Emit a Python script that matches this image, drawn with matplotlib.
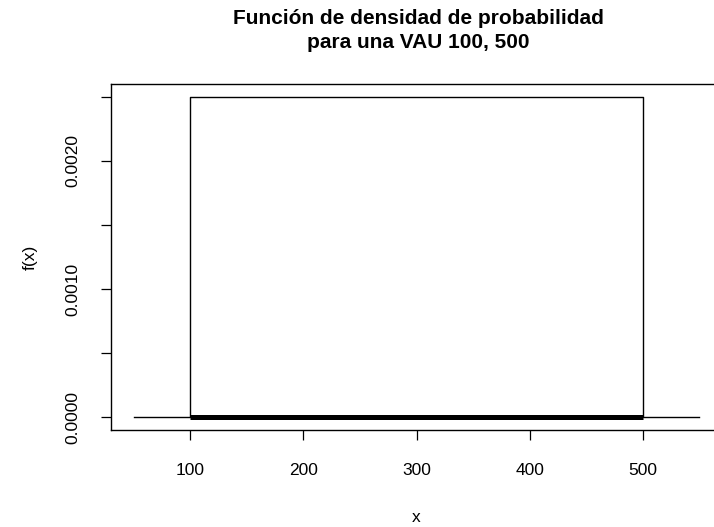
import matplotlib
matplotlib.use("Agg")
import matplotlib.pyplot as plt

# VAU(100, 500) density, drawn as R's base plot would
a, b = 100, 500
x_curve = [50, 100, 100, 500, 500, 550]
y_curve = [0, 0, 1 / (b - a), 1 / (b - a), 0, 0]
x_base = [100, 500]
y_base = [0, 0]

x_ticks = [100, 200, 300, 400, 500]
y_ticks = [0.0, 0.0005, 0.0010, 0.0015, 0.0020, 0.0025]
y_labels = ["0.0000", "", "0.0010", "", "0.0020", ""]

plt.rcParams["font.family"] = ["Liberation Sans", "DejaVu Sans"]

fig = plt.figure(figsize=(7.14, 5.27), dpi=100)
ax = fig.add_axes([111 / 714, 97 / 527, 611 / 714, 346 / 527])

ax.plot(x_curve, y_curve, color="black", lw=1.0)
ax.plot(x_base, y_base, color="black", lw=3.6, solid_capstyle="butt")

ax.set_xlim(30, 570)
ax.set_ylim(-0.0001, 0.0026)
ax.set_xticks(x_ticks)
ax.set_xticklabels([str(t) for t in x_ticks])
ax.set_yticks(y_ticks)
ax.set_yticklabels(y_labels, rotation=90, va="center")

ax.tick_params(axis="both", direction="out", length=7, width=0.9, labelsize=12.5)
ax.tick_params(axis="x", pad=17)
ax.tick_params(axis="y", pad=15)
for sp in ax.spines.values():
    sp.set_linewidth(1.0)

ax.set_xlabel("x", fontsize=12.5, labelpad=23)
ax.set_ylabel("f(x)", fontsize=12.5, labelpad=20)

fig.text(418 / 714, 1 - 9 / 527,
         "Función de densidad de probabilidad\npara una VAU 100, 500",
         ha="center", va="top", fontsize=15, fontweight="bold", linespacing=1.35)

fig.savefig("out.png", dpi=100)
